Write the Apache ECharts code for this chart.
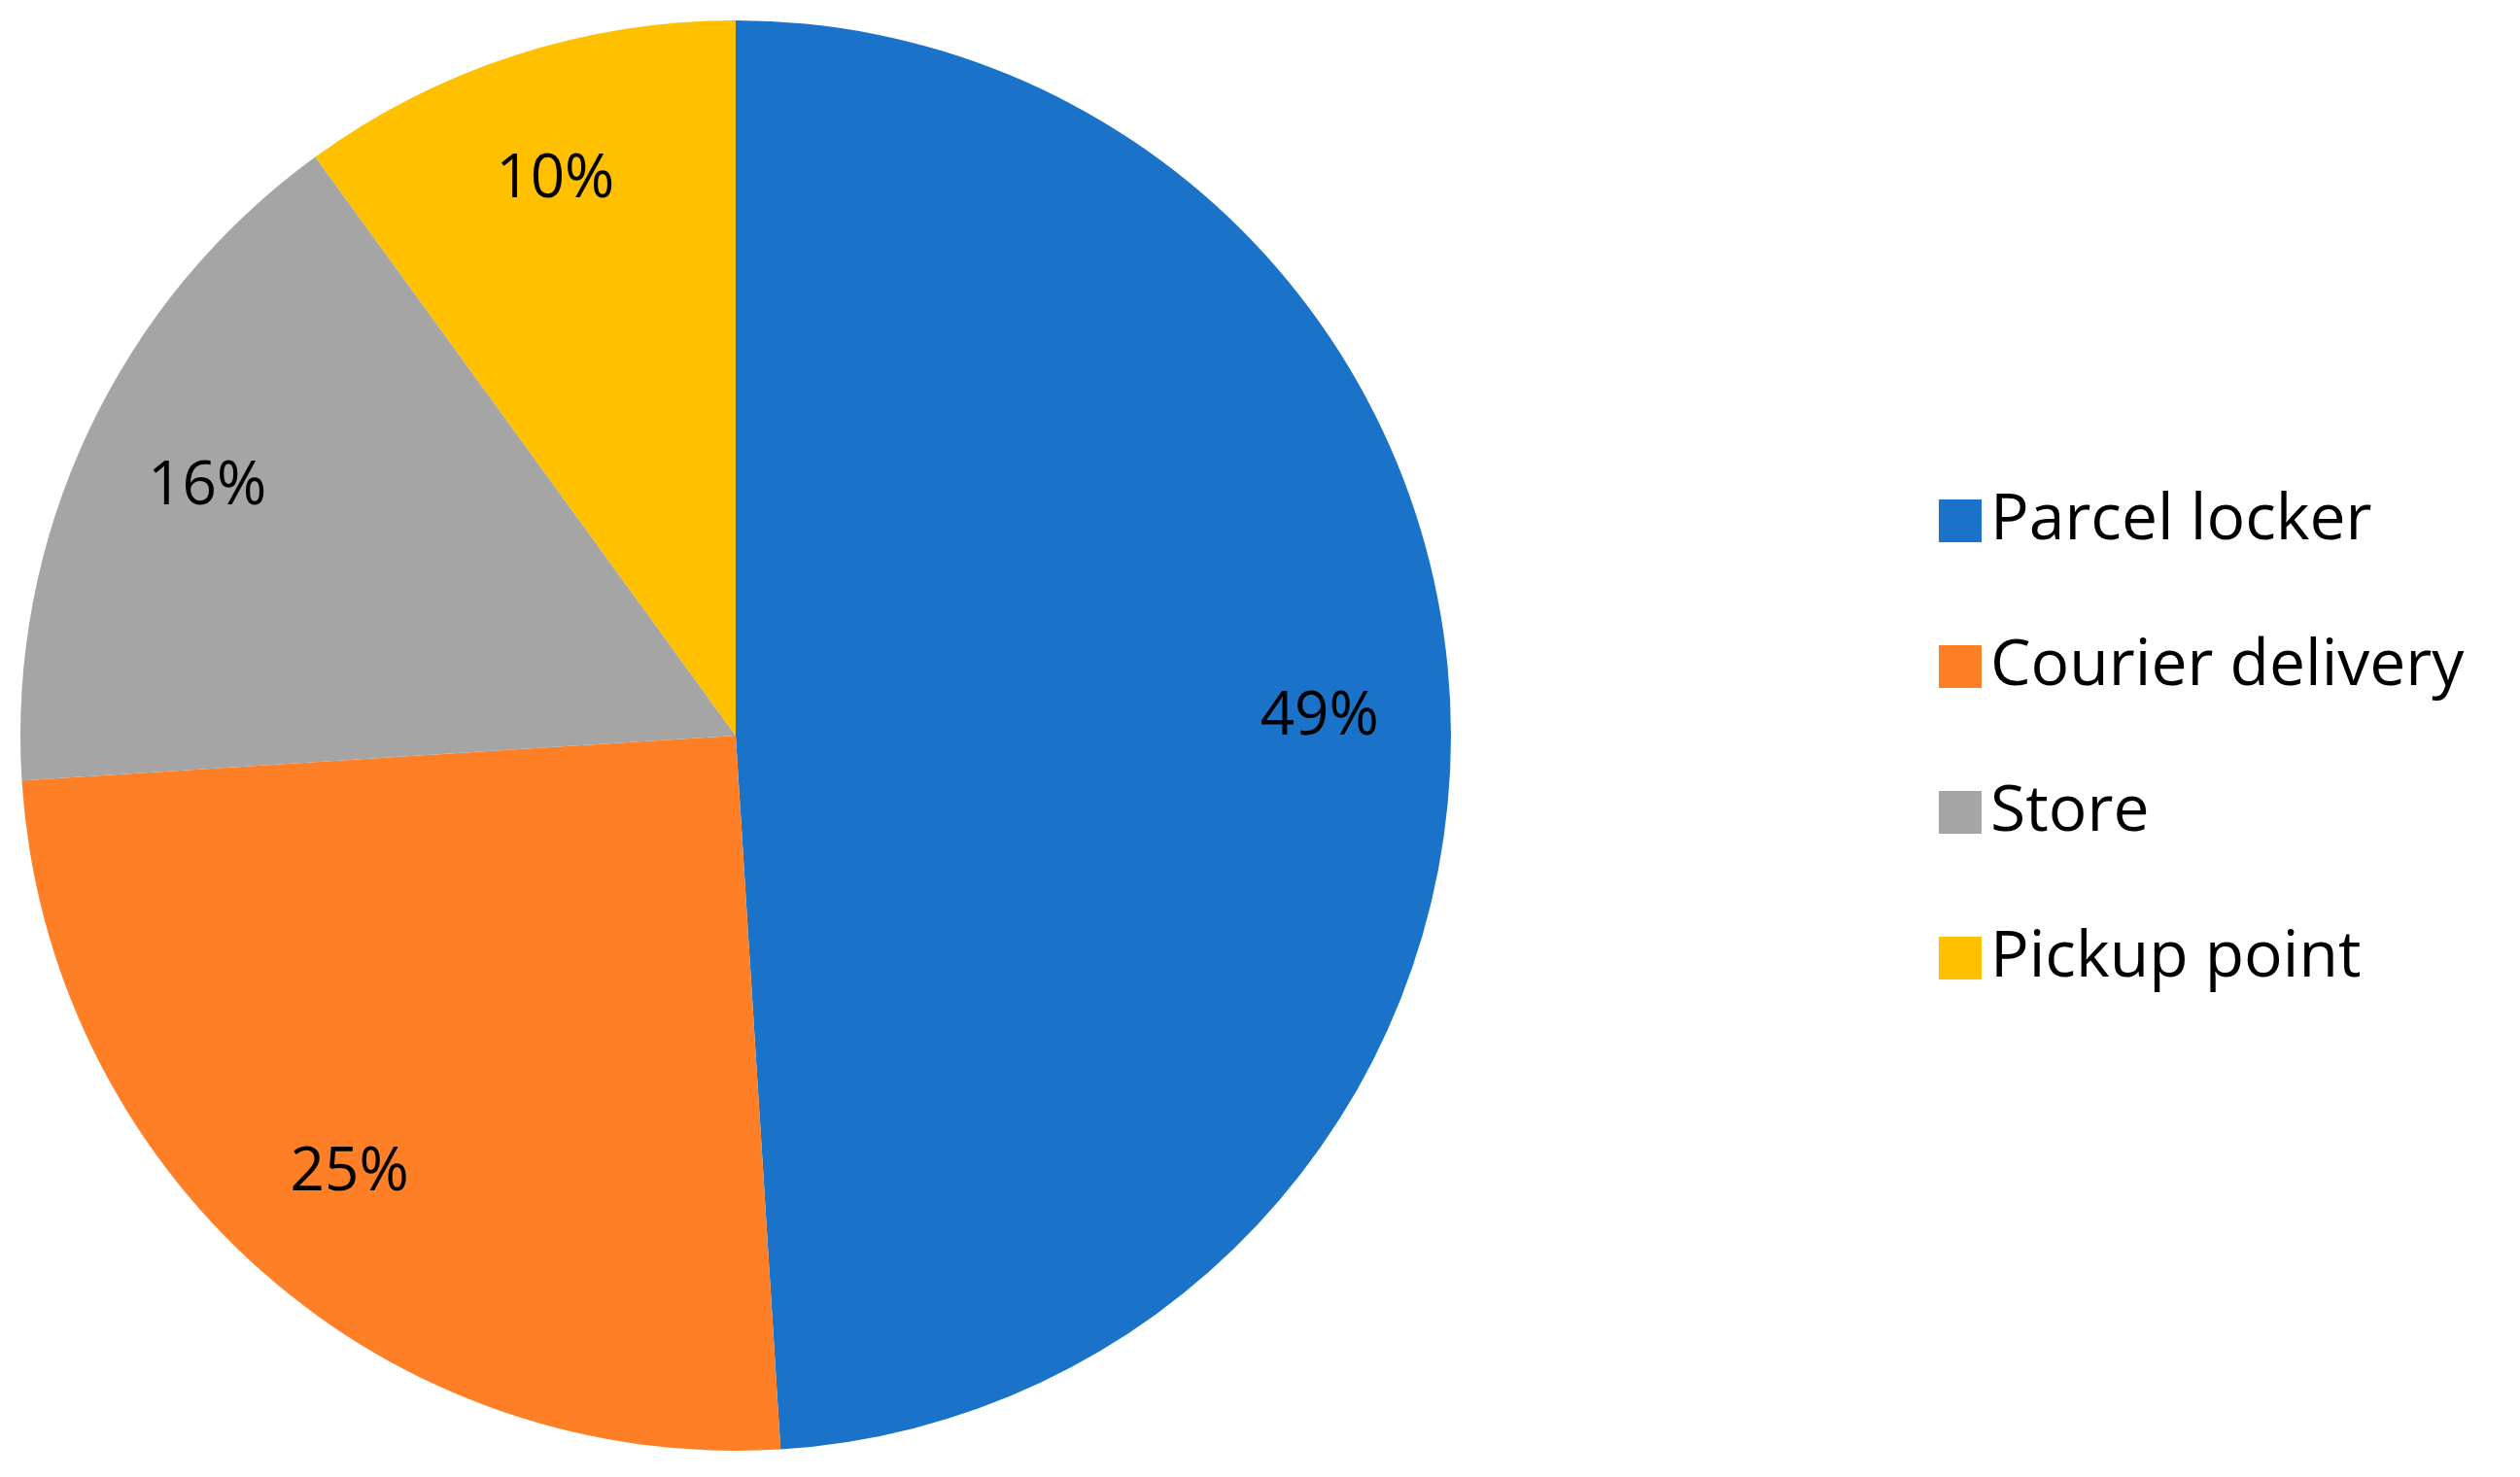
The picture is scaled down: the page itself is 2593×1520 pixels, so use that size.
<!DOCTYPE html>
<html><head><meta charset="utf-8">
<script src="https://cdn.jsdelivr.net/npm/echarts@6/dist/echarts.min.js"></script>
<style>html,body{margin:0;padding:0;background:#fff}#c{width:2593px;height:1520px}</style>
</head><body><div id="c"></div>
<script>
const categories = ['Parcel locker','Courier delivery','Store','Pickup point'];
const values = [49,25,16,10];
const colors = ['#1A73C8','#FF7F27','#A5A5A5','#FFC000'];
const font = 'Open Sans';
const chart = echarts.init(document.getElementById('c'));
const data = categories.map((n,i)=>({name:n,value:values[i],itemStyle:{color:colors[i]}}));
chart.setOption({
  animation:false,
  legend:{orient:'vertical',left:1990,top:498,itemWidth:44,itemHeight:44,itemGap:84,icon:'rect',
    data:categories,
    textStyle:{fontFamily:font,fontSize:66,color:'#000',lineHeight:66,height:66,padding:[0,0,0,4]}},
  series:[
    {type:'pie',center:[757,757],radius:[0,736],startAngle:90,clockwise:true,data:data,
     label:{show:false},labelLine:{show:false},itemStyle:{borderColor:'#fff',borderWidth:0}},
    {type:'pie',center:[757,757],radius:[460,736],startAngle:90,clockwise:true,silent:true,
     data:categories.map((n,i)=>({name:n+' ',value:values[i],itemStyle:{color:'transparent'}})),
     label:{show:true,position:'inside',formatter:'{c}%',fontFamily:font,fontSize:62,color:'#000'},
     labelLine:{show:false}}
  ]
});
</script></body></html>
